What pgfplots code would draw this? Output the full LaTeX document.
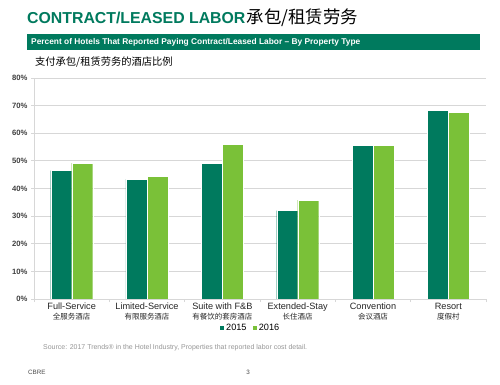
\documentclass[border=0pt]{standalone}
\usepackage{pgfplots}
\pgfplotsset{compat=1.18}
\usepackage{fontspec}
\setmainfont{Liberation Sans}
\newfontfamily\cjk{Noto Sans CJK SC}
\definecolor{dkgreen}{RGB}{0,122,94}
\definecolor{ltgreen}{RGB}{122,193,56}
\definecolor{gridgray}{RGB}{215,215,215}
\definecolor{txtgray}{RGB}{150,150,150}
\begin{document}
\begin{tikzpicture}
\fill[white] (0bp,0bp) rectangle (500bp,385bp);
\coordinate (AX) at (34bp,86bp);
% title
\node[anchor=base west, inner sep=0pt, font=\fontsize{15.9}{18}\selectfont\bfseries, text=dkgreen] (t1) at (27bp,361bp) {CONTRACT/LEASED LABOR};
\node[anchor=base west, inner sep=0pt, font=\fontsize{17.5}{20}\selectfont\cjk] at ([xshift=1bp]t1.base east) {承包/租赁劳务};
% banner
\fill[dkgreen] (27bp,335bp) rectangle (480bp,351bp);
\node[anchor=west, inner sep=0pt, font=\fontsize{8.4}{9}\selectfont\bfseries, text=white] at (31bp,343bp) {Percent of Hotels That Reported Paying Contract/Leased Labor -- By Property Type};
\node[anchor=west, inner sep=0pt, font=\fontsize{10.3}{12}\selectfont\cjk] at (35bp,323bp) {支付承包/租赁劳务的酒店比例};
% footer
\node[anchor=west, inner sep=0pt, font=\fontsize{7}{8}\selectfont, text=txtgray] at (43bp,37.5bp) {Source: 2017 Trends® in the Hotel Industry, Properties that reported labor cost detail.};
\node[anchor=west, inner sep=0pt, font=\fontsize{6.3}{7}\selectfont, text=black!70] at (28bp,13bp) {CBRE};
\node[anchor=center, inner sep=0pt, font=\fontsize{6.3}{7}\selectfont, text=black!70] at (248bp,13bp) {3};
\begin{axis}[
  at={(AX)}, anchor=south west,
  scale only axis, width=452bp, height=221bp,
  ybar=0pt, bar width=21bp,
  xmin=-0.5, xmax=5.5, ymin=0, ymax=80,
  xtick={0,1,2,3,4,5},
  xticklabels={{Full-Service\\{\cjk\fontsize{7.5}{9}\selectfont 全服务酒店}},
               {Limited-Service\\{\cjk\fontsize{7.5}{9}\selectfont 有限服务酒店}},
               {Suite with F\&B\\{\cjk\fontsize{7.5}{9}\selectfont 有餐饮的套房酒店}},
               {Extended-Stay\\{\cjk\fontsize{7.5}{9}\selectfont 长住酒店}},
               {Convention\\{\cjk\fontsize{7.5}{9}\selectfont 会议酒店}},
               {Resort\\{\cjk\fontsize{7.5}{9}\selectfont 度假村}}},
  x tick label style={align=center, font=\fontsize{9.2}{9.8}\selectfont, text=black!85, inner sep=1pt},
  major x tick style={draw=none},
  minor xtick={-0.5,0.5,1.5,2.5,3.5,4.5,5.5},
  minor x tick style={draw=gridgray, thick},
  xtick pos=bottom, tick align=outside,
  minor tick length=3bp,
  ytick={0,10,...,80},
  yticklabel={\pgfmathprintnumber{\tick}\%},
  y tick label style={font=\fontsize{7.7}{9}\selectfont\bfseries, text=black!75},
  /pgf/number format/assume math mode=true,
  ytick pos=left, major tick length=3bp,
  y tick style={draw=gridgray, thick},
  ymajorgrids, grid style={draw=gridgray, thick},
  axis x line*=bottom, axis y line*=left,
  axis line style={draw=gridgray, thick},
  legend style={at={(0.478,-0.13)}, anchor=center, draw=none, fill=none,
    font=\fontsize{9.2}{9.8}\selectfont, legend columns=2,
    /tikz/every even column/.append style={column sep=3bp}, inner sep=0pt},
  legend image code/.code={\fill[#1] (0bp,-2.5bp) rectangle (5bp,2.5bp);},
]
\addplot[fill=dkgreen, draw=white, line width=0.3bp] coordinates {(0,46.5) (1,43.4) (2,49.2) (3,32.0) (4,55.7) (5,68.2)};
\addplot[fill=ltgreen, draw=white, line width=0.3bp] coordinates {(0,49.2) (1,44.4) (2,56.0) (3,35.8) (4,55.7) (5,67.5)};
\legend{2015,2016}
\end{axis}
\end{tikzpicture}
\end{document}
